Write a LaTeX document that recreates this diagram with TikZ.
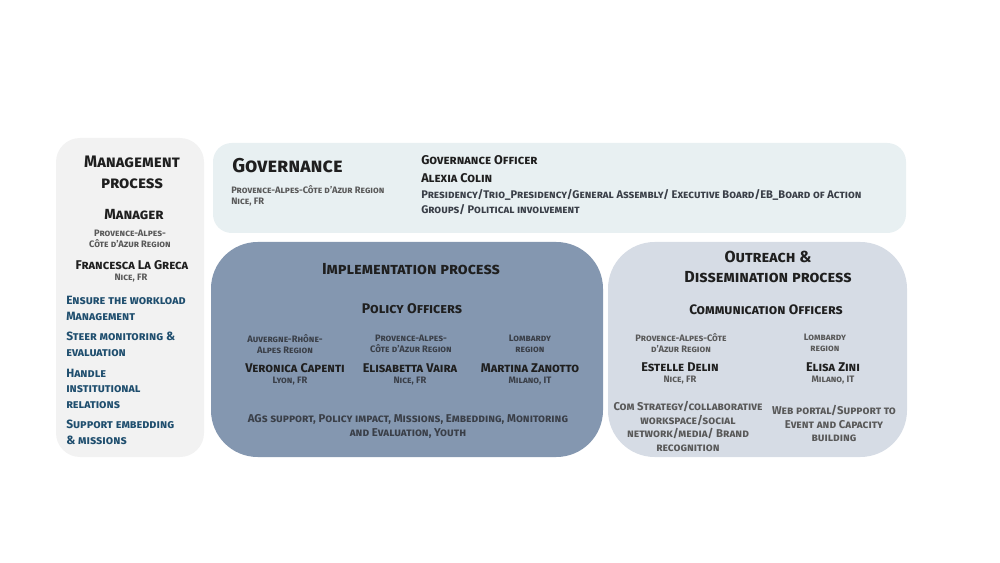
\documentclass[tikz,border=0pt]{standalone}
\usepackage{fontspec}
\setmainfont{Fira Sans}
\definecolor{mgmtfill}{HTML}{F2F2F2}
\definecolor{govfill}{HTML}{E8F0F2}
\definecolor{implfill}{HTML}{8497B0}
\definecolor{outfill}{HTML}{D6DCE5}
\definecolor{headtext}{HTML}{1F1F1F}
\definecolor{subtext}{HTML}{595959}
\definecolor{impltext}{HTML}{3A3F48}
\definecolor{tasktext}{HTML}{1F4E6E}
\tikzset{
  txt/.style={inner sep=0pt, align=center, font=\bfseries\scshape},
  bighead/.style={txt, text=headtext, font=\bfseries\scshape\fontsize{13}{15.75}\selectfont},
  midhead/.style={txt, text=headtext, font=\bfseries\scshape\fontsize{11}{14}\selectfont},
  person/.style={txt, text=headtext, font=\bfseries\scshape\fontsize{9.5}{11}\selectfont},
  place/.style={txt, text=subtext, font=\bfseries\scshape\fontsize{7}{8.25}\selectfont},
  duty/.style={txt, text=tasktext, align=left, font=\bfseries\scshape\fontsize{9}{11.6}\selectfont},
  note/.style={txt, text=subtext, font=\bfseries\scshape\fontsize{8.5}{10.4}\selectfont}
}
\begin{document}
\begin{tikzpicture}[x=0.75pt, y=-0.75pt]
            \useasboundingbox (0,0) rectangle (1000,563);
            %boxes
            \fill[mgmtfill, rounded corners=18] (56,138) rectangle (204,457);
            \fill[govfill, rounded corners=14] (213,143) rectangle (906,233);
            \fill[implfill, rounded corners=35] (211,242) rectangle (603,457);
            \fill[outfill, rounded corners=35] (608,242) rectangle (907,457);

            %management
            \node[bighead, font=\bfseries\scshape\fontsize{12.5}{15.75}\selectfont] (mgmttitle) at (132,172.5) {Management\\process};
            \node[midhead] (manager) at (134,215) {Manager};
            \node[place] (manregion) at (130,238.5) {Provence-Alpes-\\Côte d'Azur Region};
            \node[person] (manname) at (132,265) {Francesca La Greca};
            \node[place] (mancity) at (131,278) {Nice, FR};
            \node[duty, anchor=west] (duty1) at (66,308.5) {Ensure the workload\\Management};
            \node[duty, anchor=west] (duty2) at (66,344.5) {Steer monitoring \&\\evaluation};
            \node[duty, anchor=west] (duty3) at (66,388.5) {Handle\\institutional\\relations};
            \node[duty, anchor=west] (duty4) at (66,432.5) {Support embedding\\\& missions};

            %governance
            \node[bighead, anchor=west, font=\bfseries\scshape\fontsize{15}{18}\selectfont] (govtitle) at (232,166) {Governance};
            \node[place, anchor=west, align=left] (govregion) at (231,195.5) {Provence-Alpes-Côte d'Azur Region\\Nice, FR};
            \node[person, anchor=west] (govrole) at (421,160) {Governance Officer};
            \node[person, anchor=west] (govname) at (421,178) {Alexia Colin};
            \node[note, anchor=west, align=left, text=impltext, font=\bfseries\scshape\fontsize{8.3}{11.25}\selectfont] (govtasks) at (421,202.5) {Presidency/Trio\_Presidency/General Assembly/ Executive Board/EB\_Board of Action\\Groups/ Political involvement};

            %implementation
            \node[midhead, font=\bfseries\scshape\fontsize{12}{14}\selectfont] (impltitle) at (411,269) {Implementation process};
            \node[midhead, font=\bfseries\scshape\fontsize{10.5}{13}\selectfont] (policy) at (412,309) {Policy Officers};
            \node[place, text=impltext] (implregion1) at (285,344) {Auvergne-Rhône-\\Alpes Region};
            \node[place, text=impltext] (implregion2) at (411,344) {Provence-Alpes-\\Côte d'Azur Region};
            \node[place, text=impltext] (implregion3) at (530,344) {Lombardy\\region};
            \node[person] (implname1) at (295,368) {Veronica Capenti};
            \node[person] (implname2) at (410,368) {Elisabetta Vaira};
            \node[person] (implname3) at (530,368) {Martina Zanotto};
            \node[place, text=impltext] (implcity1) at (290,381) {Lyon, FR};
            \node[place, text=impltext] (implcity2) at (410,381) {Nice, FR};
            \node[place, text=impltext] (implcity3) at (530,381) {Milano, IT};
            \node[note, text=impltext] (impltasks) at (408,426.5) {AGs support, Policy impact, Missions, Embedding, Monitoring\\and Evaluation, Youth};

            %outreach
            \node[midhead, font=\bfseries\scshape\fontsize{12}{15}\selectfont] (outtitle) at (768,267) {Outreach \&\\Dissemination process};
            \node[midhead, font=\bfseries\scshape\fontsize{10.3}{13}\selectfont] (comm) at (766,310) {Communication Officers};
            \node[place] (outregion1) at (681,343) {Provence-Alpes-Côte\\d'Azur Region};
            \node[place] (outregion2) at (825,343) {Lombardy\\region};
            \node[person] (outname1) at (680,367) {Estelle Delin};
            \node[person] (outname2) at (833,367) {Elisa Zini};
            \node[place] (outcity1) at (680,380) {Nice, FR};
            \node[place] (outcity2) at (833,380) {Milano, IT};
            \node[note] (outtasks1) at (688,426.5) {Com Strategy/collaborative\\workspace/social\\network/media/ Brand\\recognition};
            \node[note] (outtasks2) at (834,423.5) {Web portal/Support to\\Event and Capacity\\building};
        \end{tikzpicture}
\end{document}
